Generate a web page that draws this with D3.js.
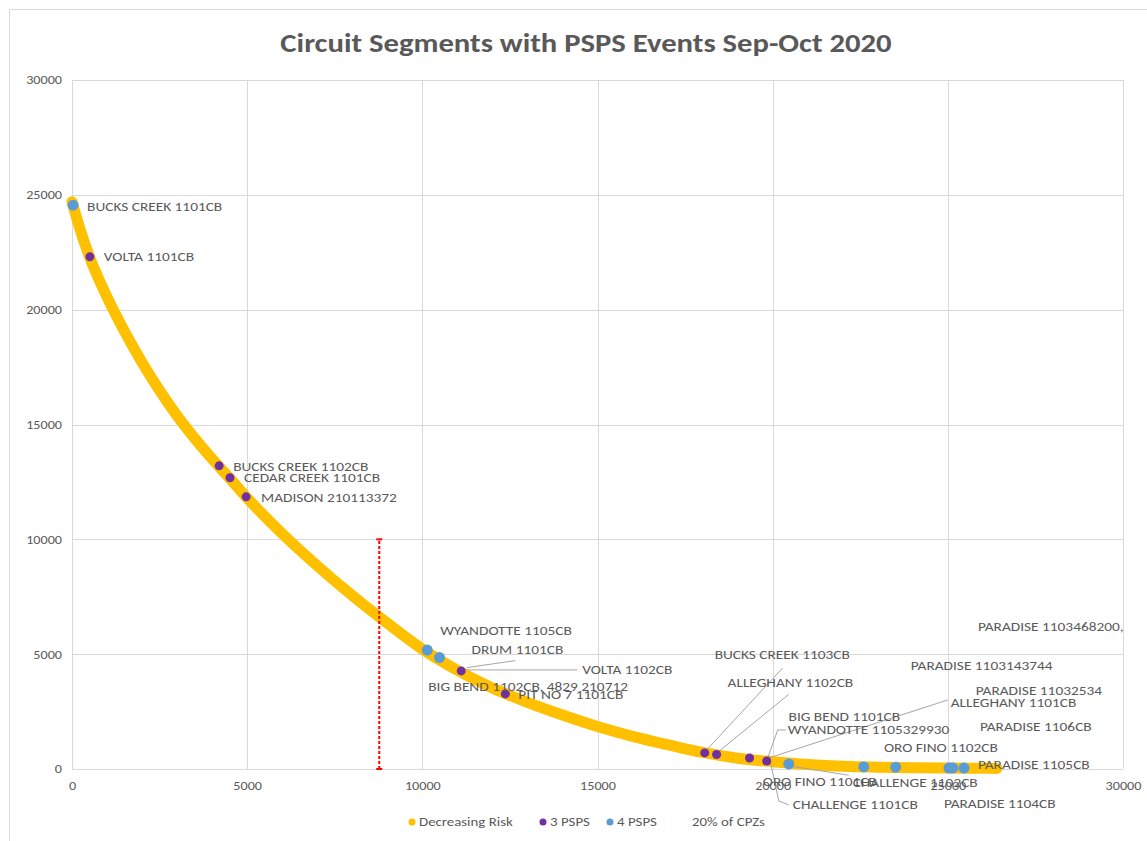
<!DOCTYPE html>
<html>
<head>
<meta charset="utf-8">
<script src="https://cdn.jsdelivr.net/npm/d3@7"></script>
<style>
  body { margin: 0; background: #fff; }
  text { font-family: Carlito, Calibri, "Open Sans", sans-serif; fill: #595959; }
</style>
</head>
<body>
<svg id="chart" width="1147" height="841"></svg>
<script>
// ---- data ----
const riskX = [0, 250, 500, 1000, 1500, 2000, 2500, 3000, 3500, 4000, 4500, 5000, 6000, 7000, 8000, 9000,
               10000, 11000, 12000, 13000, 14000, 15000, 16000, 17000, 18000, 19000, 20000, 21000, 22000,
               23000, 24000, 25000, 26000, 26400];
const riskY = [24700, 23400, 22300, 20550, 19050, 17700, 16480, 15380, 14400, 13500, 12660, 11800, 10250, 8850, 7550, 6350,
               5220, 4300, 3530, 2900, 2350, 1850, 1420, 1060, 720, 470, 320, 200, 120,
               80, 55, 40, 30, 25];

const psps3X = [510, 4200, 4510, 4970, 11110, 12370, 18060, 18400, 19340, 19830];
const psps3Y = [22300, 13200, 12680, 11850, 4270, 3270, 700, 630, 480, 350];

const psps4X = [30, 10140, 10490, 20460, 22600, 23510, 25030, 25140, 25460];
const psps4Y = [24550, 5180, 4850, 220, 90, 80, 40, 40, 40];

const cpzX = 8770;       // 20% of CPZs
const cpzY = [0, 10000];

const xTicks = [0, 5000, 10000, 15000, 20000, 25000, 30000];
const yTicks = [0, 5000, 10000, 15000, 20000, 25000, 30000];

const seriesNames = ["Decreasing Risk", "3 PSPS", "4 PSPS", "20% of CPZs"];
const seriesColors = ["#FFC000", "#7030A0", "#5B9BD5", "#FF0000"];

// data labels: which point, and where the text sits relative to it (px)
const labels = [
  {t: "BUCKS CREEK 1101CB", s: 4, i: 0, dx: 14, dy: 1},
  {t: "VOLTA 1101CB", s: 3, i: 0, dx: 14, dy: 0},
  {t: "BUCKS CREEK 1102CB", s: 3, i: 1, dx: 14, dy: 1},
  {t: "CEDAR CREEK 1101CB", s: 3, i: 2, dx: 14, dy: 0},
  {t: "MADISON 210113372", s: 3, i: 3, dx: 15, dy: 1},
  {t: "WYANDOTTE 1105CB", s: 4, i: 1, dx: 13, dy: -20},
  {t: "DRUM 1101CB", s: 4, i: 2, dx: 32, dy: -8, lead: [[27, 10], [76, 3]]},
  {t: "VOLTA 1102CB", s: 3, i: 4, dx: 121, dy: -1, lead: [[5, -1], [116, -1]]},
  {t: "BIG BEND 1102CB, 4829 210712", s: 3, i: 4, dx: -33, dy: 16},
  {t: "PIT NO 7 1101CB", s: 3, i: 5, dx: 13, dy: 1},
  {t: "BUCKS CREEK 1103CB", s: 3, i: 6, dx: 10, dy: -98, lead: [[2, -3], [78, -85]]},
  {t: "ALLEGHANY 1102CB", s: 3, i: 7, dx: 11, dy: -72, lead: [[2, -3], [72, -60]]},
  {t: "BIG BEND 1101CB", s: 3, i: 8, dx: 39, dy: -41},
  {t: "WYANDOTTE 1105329930", s: 3, i: 9, dx: 21, dy: -31, lead: [[1, -3], [11, -31], [19, -31]]},
  {t: "ALLEGHANY 1101CB", s: 3, i: 9, dx: 184, dy: -58, lead: [[2, -3], [181, -61]]},
  {t: "ORO FINO 1101CB", s: 4, i: 3, dx: -26, dy: 18},
  {t: "CHALLENGE 1101CB", s: 4, i: 3, dx: 4, dy: 41, lead: [[-18, 0], [-10, 37], [0, 41]]},
  {t: "CHALLENGE 1102CB", s: 4, i: 5, dx: -43, dy: 15, lead: [[-105, -1], [-47, 8]]},
  {t: "ORO FINO 1102CB", s: 4, i: 6, dx: -65, dy: -21},
  {t: "PARADISE 1104CB", s: 4, i: 6, dx: -5, dy: 35},
  {t: "PARADISE 1103143744", s: 4, i: 7, dx: -42, dy: -103},
  {t: "PARADISE 11032534", s: 4, i: 7, dx: 23, dy: -78},
  {t: "PARADISE 1105CB", s: 4, i: 8, dx: 14, dy: -4},
  {t: "PARADISE 1106CB", s: 4, i: 8, dx: 16, dy: -42},
  {t: "PARADISE 1103468200,", s: 4, i: 8, dx: 14, dy: -142}
];

// ---- layout ----
const svg = d3.select("#chart");
const plot = {left: 72, right: 1123, top: 80, bottom: 769};
const stretch = 1.18;   // the source picture is a bit wide

const x = d3.scaleLinear().domain([0, 30000]).range([plot.left, plot.right]);
const y = d3.scaleLinear().domain([0, 30000]).range([plot.bottom, plot.top]);

// outer chart border
svg.append("rect")
  .attr("x", 9.5).attr("y", 9.5)
  .attr("width", 1160).attr("height", 860)
  .attr("fill", "none").attr("stroke", "#d9d9d9");

// title
svg.append("text")
  .attr("transform", `translate(586,52) scale(${stretch},1)`)
  .attr("text-anchor", "middle")
  .style("font-size", "26px").style("font-weight", "bold")
  .text("Circuit Segments with PSPS Events Sep-Oct 2020");

// gridlines
svg.append("g").selectAll("line.gx").data(xTicks).join("line")
  .attr("x1", d => Math.round(x(d)) + 0.5).attr("x2", d => Math.round(x(d)) + 0.5)
  .attr("y1", plot.top).attr("y2", plot.bottom)
  .attr("stroke", "#d9d9d9");
svg.append("g").selectAll("line.gy").data(yTicks).join("line")
  .attr("y1", d => Math.round(y(d)) + 0.5).attr("y2", d => Math.round(y(d)) + 0.5)
  .attr("x1", plot.left).attr("x2", plot.right)
  .attr("stroke", "#d9d9d9");

// axes (labels only, Excel style)
const xAxis = svg.append("g")
  .attr("transform", `translate(0,${plot.bottom + 9})`)
  .call(d3.axisBottom(x).tickValues(xTicks).tickSize(0).tickFormat(d3.format("d")));
const yAxis = svg.append("g")
  .attr("transform", `translate(${plot.left - 10},0)`)
  .call(d3.axisLeft(y).tickValues(yTicks).tickSize(0).tickPadding(0).tickFormat(d3.format("d")));
[xAxis, yAxis].forEach(a => {
  a.select(".domain").remove();
  a.selectAll("text").style("font-size", "12px").attr("fill", "#595959")
    .attr("transform", `scale(${stretch},1)`)
    .style("font-family", 'Carlito, Calibri, "Open Sans", sans-serif');
});

// decreasing risk series
const risk = riskX.map((v, k) => ({x: v, y: riskY[k]}));
const line = d3.line().x(d => x(d.x)).y(d => y(d.y)).curve(d3.curveMonotoneX);
svg.append("path")
  .datum(risk)
  .attr("d", line)
  .attr("fill", "none")
  .attr("stroke", seriesColors[0])
  .attr("stroke-width", 11)
  .attr("stroke-linecap", "round")
  .attr("stroke-linejoin", "round");

// 20% of CPZs marker line
svg.append("line")
  .attr("x1", x(cpzX)).attr("x2", x(cpzX))
  .attr("y1", y(cpzY[0])).attr("y2", y(cpzY[1]))
  .attr("stroke", seriesColors[3]).attr("stroke-width", 2)
  .attr("stroke-dasharray", "3,2");
svg.selectAll("line.cap").data(cpzY).join("line")
  .attr("x1", x(cpzX) - 3).attr("x2", x(cpzX) + 3)
  .attr("y1", d => y(d)).attr("y2", d => y(d))
  .attr("stroke", seriesColors[3]).attr("stroke-width", 2);

// leader lines
const pts = {3: psps3X.map((v, k) => [x(v), y(psps3Y[k])]),
             4: psps4X.map((v, k) => [x(v), y(psps4Y[k])])};
svg.append("g").selectAll("polyline")
  .data(labels.filter(d => d.lead))
  .join("polyline")
  .attr("points", d => d.lead.map(p => [pts[d.s][d.i][0] + p[0], pts[d.s][d.i][1] + p[1]].join(",")).join(" "))
  .attr("fill", "none")
  .attr("stroke", "#a6a6a6")
  .attr("stroke-width", 1);

// PSPS points
svg.append("g").selectAll("circle")
  .data(pts[3]).join("circle")
  .attr("cx", d => d[0]).attr("cy", d => d[1]).attr("r", 4.5)
  .attr("fill", seriesColors[1]);
svg.append("g").selectAll("circle")
  .data(pts[4]).join("circle")
  .attr("cx", d => d[0]).attr("cy", d => d[1]).attr("r", 5.5)
  .attr("fill", seriesColors[2]);

// data labels
svg.append("g").selectAll("text")
  .data(labels).join("text")
  .attr("transform", d => `translate(${pts[d.s][d.i][0] + d.dx},${pts[d.s][d.i][1] + d.dy + 4.5}) scale(${stretch},1)`)
  .style("font-size", "13px")
  .text(d => d.t);

// legend
const legendX = [412, 543, 610, 692];
const legend = svg.append("g");
seriesNames.forEach((name, k) => {
  if (k < 3) {
    legend.append("circle")
      .attr("cx", legendX[k]).attr("cy", 822).attr("r", 3.5)
      .attr("fill", seriesColors[k]);
  }
  legend.append("text")
    .attr("transform", `translate(${k < 3 ? legendX[k] + 7 : legendX[k]},826) scale(${stretch},1)`)
    .style("font-size", "12.6px")
    .text(name);
});
</script>
</body>
</html>
